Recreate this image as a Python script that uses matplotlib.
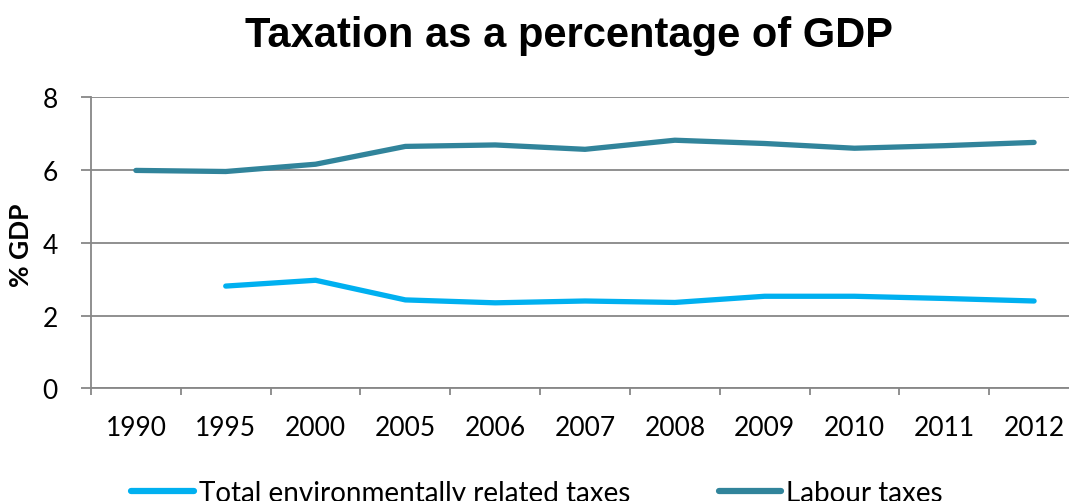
import matplotlib
matplotlib.use("Agg")
import matplotlib.pyplot as plt
import numpy as np

# Data
years = ["1990", "1995", "2000", "2005", "2006", "2007", "2008", "2009", "2010", "2011", "2012"]
env_taxes = [np.nan, 2.81, 2.97, 2.43, 2.35, 2.40, 2.36, 2.53, 2.53, 2.47, 2.40]
labour_taxes = [5.99, 5.96, 6.16, 6.65, 6.69, 6.57, 6.82, 6.73, 6.60, 6.67, 6.76]
y_ticks = [0, 2, 4, 6, 8]

env_color = "#00B0F0"
labour_color = "#31849B"
grid_color = "#878787"
label_font = "Lato"

W, H = 1069, 502
fig = plt.figure(figsize=(W / 100, H / 100), dpi=100)
fig.patch.set_facecolor("white")

# plot area (right edge extends slightly past the canvas)
left, right, bottom_px, top_px = 91, 1079, 389.3, 98.3
ax = fig.add_axes([left / W, (H - bottom_px) / H, (right - left) / W, (bottom_px - top_px) / H])

x = np.arange(len(years))
ax.plot(x, env_taxes, color=env_color, lw=3.8, solid_capstyle="round",
        solid_joinstyle="round", label="Total environmentally related taxes", zorder=3)
ax.plot(x, labour_taxes, color=labour_color, lw=3.8, solid_capstyle="round",
        solid_joinstyle="round", label="Labour taxes", zorder=3)

ax.set_xlim(-0.5, len(years) - 0.5)
ax.set_ylim(0, 8)
ax.set_yticks(y_ticks)
ax.set_yticklabels([str(v) for v in y_ticks], fontsize=19, family=label_font)
ax.yaxis.grid(True, color=grid_color, lw=1.3)
ax.set_axisbelow(True)

# category labels centred, tick marks between categories
ax.set_xticks(x)
ax.set_xticklabels(years, fontsize=19, family=label_font)
ax.set_xticks(np.arange(-0.5, len(years), 1.0), minor=True)
ax.tick_params(axis="x", which="major", length=0, pad=19)
ax.tick_params(axis="x", which="minor", length=5, width=1.3, color=grid_color, direction="out")
ax.tick_params(axis="y", length=7, width=1.3, color=grid_color, direction="out", pad=17)

for side in ("top", "right"):
    ax.spines[side].set_visible(False)
for side in ("left", "bottom"):
    ax.spines[side].set_color(grid_color)
    ax.spines[side].set_linewidth(1.3)

fig.text(21 / W, (H - 245) / H, "% GDP", rotation=90, ha="center", va="center",
         fontsize=19, fontweight="bold", family=label_font)

fig.text(569 / W, (H - 36) / H, "Taxation as a percentage of GDP", ha="center", va="center",
         fontsize=30, fontweight="bold", family="Liberation Sans")

leg = fig.legend(loc="center", bbox_to_anchor=(537 / W, (H - 494) / H), ncol=2,
                 frameon=False, prop={"family": label_font, "size": 20},
                 handlelength=2.25, handletextpad=0.18, columnspacing=3.2)
for line in leg.get_lines():
    line.set_linewidth(4.5)

fig.savefig("out.png", dpi=100, facecolor="white")
